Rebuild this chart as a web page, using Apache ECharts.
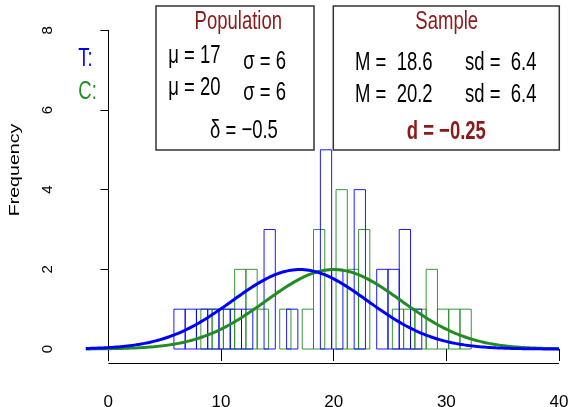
<!DOCTYPE html>
<html>
<head>
<meta charset="utf-8">
<script src="https://cdn.jsdelivr.net/npm/echarts@6/dist/echarts.min.js"></script>
<style>
  html, body { margin: 0; padding: 0; background: #fff; }
  #chart { width: 568px; height: 407px; }
</style>
</head>
<body>
<div id="chart"></div>
<script>
// Histogram bins (width 1) for the treatment (T) and control (C) samples
const binWidth = 1;
const tFirstEdge = 5.82;
const tCounts = [1, 1, 1, 1, 1, 1, 1, 0, 3, 0, 1, 0, 0, 5, 2, 0, 4, 0, 2, 2, 3, 1];
const cFirstEdge = 8.21;
const cCounts = [1, 1, 1, 2, 2, 1, 0, 1, 0, 1, 3, 0, 4, 2, 3, 0, 0, 1, 1, 1, 2, 1, 1, 1];

// Population parameters used for the density curves
const popMu = [17, 20];
const popSigma = [6, 6];
const groupSize = 30;
const curveRange = [-2, 40];

// Axis ticks and plotting window
const xTicks = [0, 10, 20, 30, 40];
const yTicks = [0, 2, 4, 6, 8];
const xWindow = [-3.67, 40];

const blue = '#0000ff';
const green = '#228b22';
const darkRed = '#8b1a1a';

function bins(firstEdge, counts) {
  const out = [];
  counts.forEach((c, i) => {
    if (c > 0) out.push([firstEdge + i * binWidth, firstEdge + (i + 1) * binWidth, c]);
  });
  return out;
}

function densityCurve(mu, sigma) {
  const pts = [];
  const step = 0.2;
  for (let x = curveRange[0]; x <= curveRange[1] + 1e-9; x += step) {
    const z = (x - mu) / sigma;
    const d = Math.exp(-0.5 * z * z) / (sigma * Math.sqrt(2 * Math.PI));
    pts.push([+x.toFixed(2), groupSize * binWidth * d]);
  }
  return pts;
}

function histSeries(data, color) {
  return {
    type: 'custom',
    clip: false,
    data: data,
    encode: { x: [0, 1], y: 2 },
    renderItem: function (params, api) {
      const p0 = api.coord([api.value(0), api.value(2)]);
      const p1 = api.coord([api.value(1), 0]);
      return {
        type: 'rect',
        shape: { x: p0[0], y: p0[1], width: p1[0] - p0[0], height: p1[1] - p0[1] },
        style: { fill: 'none', stroke: color, lineWidth: 1, opacity: 0.9 }
      };
    },
    silent: true
  };
}

function curveSeries(data, color) {
  return {
    type: 'line',
    data: data,
    clip: false,
    showSymbol: false,
    smooth: false,
    lineStyle: { color: color, width: 3 },
    silent: true
  };
}

// Detached x-axis line spanning the first to last tick (drawn below the plot area)
const axisDrop = 14;
const xAxisLineSeries = {
  type: 'custom',
  clip: false,
  silent: true,
  data: [[xTicks[0], xTicks[xTicks.length - 1]]],
  encode: { x: [0, 1] },
  renderItem: function (params, api) {
    const a = api.coord([api.value(0), 0]);
    const b = api.coord([api.value(1), 0]);
    return {
      type: 'line',
      shape: { x1: a[0], y1: a[1] + axisDrop + 0.5, x2: b[0], y2: b[1] + axisDrop + 0.5 },
      style: { stroke: '#000', lineWidth: 1 }
    };
  }
};

const textFont = '"Liberation Sans", Arial, sans-serif';
const stretch = 1.4;

function label(text, x, y, opts) {
  opts = opts || {};
  return {
    type: 'text',
    x: x, y: y,
    scaleY: stretch,
    z: 20,
    style: {
      text: text,
      fill: opts.color || '#000',
      font: (opts.bold ? 'bold ' : '') + (opts.size || 18.5) + 'px ' + textFont,
      textAlign: opts.align || 'left',
      textVerticalAlign: 'middle'
    }
  };
}

const chart = echarts.init(document.getElementById('chart'), null, { renderer: 'canvas' });

chart.setOption({
  animation: false,
  backgroundColor: '#fff',
  grid: { left: 67, right: 9, top: 30.3, bottom: 58, containLabel: false, outerBoundsMode: 'none' },
  xAxis: {
    type: 'value',
    min: xWindow[0], max: xWindow[1],
    offset: axisDrop,
    axisLine: { show: false },
    axisTick: { show: true, length: 12, customValues: xTicks, lineStyle: { color: '#000', width: 1 } },
    axisLabel: { margin: 31, customValues: xTicks, color: '#000', fontSize: 17, fontFamily: '"Liberation Sans Narrow", "Liberation Sans", sans-serif' },
    splitLine: { show: false }
  },
  yAxis: {
    type: 'value',
    min: yTicks[0], max: yTicks[yTicks.length - 1], interval: 2,
    axisLine: { show: true, lineStyle: { color: '#000', width: 1 } },
    axisTick: { show: true, length: 8, lineStyle: { color: '#000', width: 1 } },
    axisLabel: { rotate: 90, margin: 12, color: '#000', fontSize: 15, fontFamily: textFont },
    splitLine: { show: false }
  },
  series: [
    xAxisLineSeries,
    histSeries(bins(cFirstEdge, cCounts), green),
    histSeries(bins(tFirstEdge, tCounts), blue),
    curveSeries(densityCurve(popMu[1], popSigma[1]), green),
    curveSeries(densityCurve(popMu[0], popSigma[0]), blue)
  ],
  graphic: [
    {
      type: 'text', x: 15, y: 170, rotation: Math.PI / 2, scaleX: 1.4,
      style: { text: 'Frequency', fill: '#000', font: '14px ' + textFont, textAlign: 'center', textVerticalAlign: 'middle' }
    },
    label('T:', 78.3, 59, { color: blue }),
    label('C:', 78.3, 91.7, { color: green }),
    {
      type: 'rect', z: 10,
      shape: { x: 156, y: 6, width: 158, height: 144 },
      style: { fill: '#fff', stroke: '#333', lineWidth: 1.5 }
    },
    {
      type: 'rect', z: 10,
      shape: { x: 333.3, y: 6, width: 226, height: 144 },
      style: { fill: '#fff', stroke: '#333', lineWidth: 1.5 }
    },
    label('Population', 238.3, 21.7, { color: darkRed, align: 'center' }),
    label('\u03bc = 17', 168.3, 55.7),
    label('\u03c3 = 6', 243.3, 61.7),
    label('\u03bc = 20', 168.3, 88.3),
    label('\u03c3 = 6', 243.3, 93.3),
    label('\u03b4 = \u22120.5', 210, 130.8),
    label('Sample', 446.7, 21.7, { color: darkRed, align: 'center' }),
    label('M =  18.6', 355, 63.3),
    label('sd =  6.4', 465, 63.3),
    label('M =  20.2', 355, 95),
    label('sd =  6.4', 465, 95),
    label('d = \u22120.25', 406.7, 131.7, { color: darkRed, bold: true })
  ]
});
</script>
</body>
</html>
